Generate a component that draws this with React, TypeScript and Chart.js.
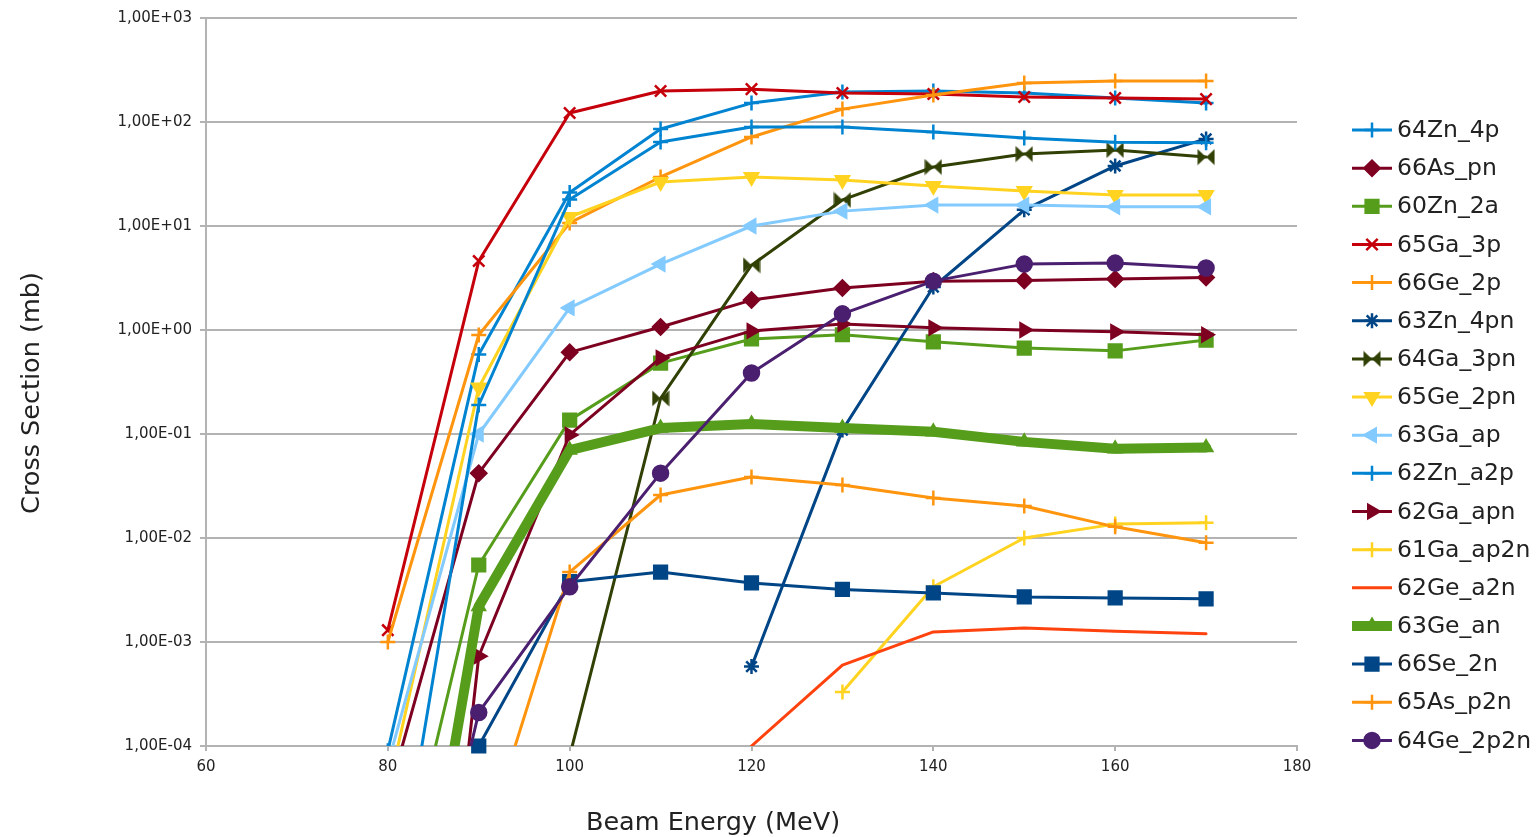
import React, { useEffect, useRef } from 'react';
import { Chart, registerables } from 'chart.js';
import { drawPoint } from 'chart.js/helpers';

Chart.register(...registerables);

// ---------- data ----------
const energies = [80, 90, 100, 110, 120, 130, 140, 150, 160, 170];

const seriesNames = [
  '64Zn_4p', '66As_pn', '60Zn_2a', '65Ga_3p', '66Ge_2p', '63Zn_4pn', '64Ga_3pn', '65Ge_2pn',
  '63Ga_ap', '62Zn_a2p', '62Ga_apn', '61Ga_ap2n', '62Ge_a2n', '63Ge_an', '66Se_2n', '65As_p2n', '64Ge_2p2n',
];

const zn64_4p = [9e-5, 0.58, 21, 85.7, 152, 194, 199, 190, 170, 152];
const as66_pn = [3.2e-5, 0.042, 0.61, 1.07, 1.94, 2.54, 2.95, 3.0, 3.1, 3.2];
const zn60_2a = [1.2e-6, 5.5e-3, 0.136, 0.48, 0.82, 0.9, 0.77, 0.67, 0.63, 0.8];
const ga65_3p = [1.3e-3, 4.6, 122, 199, 207, 190, 186, 174, 170, 166];
const ge66_2p = [1.0e-3, 0.895, 10.7, 29.6, 71.8, 133, 182, 237, 248, 248];
const zn63_4pn = [null, null, null, null, 5.8e-4, 0.109, 2.59, 14.3, 37.8, 68.8];
const ga64_3pn = [null, null, 8e-5, 0.22, 4.2, 17.8, 36.9, 49.2, 53.8, 46];
const ge65_2pn = [3.7e-5, 0.28, 12.2, 26.5, 29.6, 27.7, 24.3, 21.7, 19.9, 19.9];
const ga63_ap = [6.7e-5, 0.1, 1.63, 4.3, 10.0, 13.9, 15.9, 15.9, 15.3, 15.3];
const zn62_a2p = [1.1e-6, 0.19, 18, 64.3, 89.6, 89.6, 80, 70, 64, 63];
const ga62_apn = [1e-11, 7.3e-4, 0.098, 0.54, 0.98, 1.14, 1.05, 1.0, 0.96, 0.9];
const ga61_ap2n = [null, null, null, null, null, 3.3e-4, 3.4e-3, 0.01, 0.0136, 0.014];
const ge62_a2n = [null, null, null, null, 1e-4, 6e-4, 1.25e-3, 1.36e-3, 1.27e-3, 1.2e-3];
const ge63_an = [2e-8, 2.2e-3, 0.07, 0.114, 0.125, 0.114, 0.105, 0.084, 0.072, 0.074];
const se66_2n = [null, 1e-4, 3.8e-3, 4.7e-3, 3.7e-3, 3.2e-3, 2.96e-3, 2.71e-3, 2.65e-3, 2.6e-3];
const as65_p2n = [null, 7.7e-6, 4.7e-3, 0.0259, 0.0386, 0.0324, 0.0243, 0.0203, 0.0128, 0.009];
const ge64_2p2n = [4e-8, 2.1e-4, 3.4e-3, 0.042, 0.386, 1.43, 2.95, 4.3, 4.4, 3.95];

const seriesValues = [
  zn64_4p, as66_pn, zn60_2a, ga65_3p, ge66_2p, zn63_4pn, ga64_3pn, ge65_2pn,
  ga63_ap, zn62_a2p, ga62_apn, ga61_ap2n, ge62_a2n, ge63_an, se66_2n, as65_p2n, ge64_2p2n,
];

const yTickValues = [1e-4, 1e-3, 1e-2, 1e-1, 1, 10, 100, 1000];
const yTickLabels = ['1,00E-04', '1,00E-03', '1,00E-02', '1,00E-01', '1,00E+00', '1,00E+01', '1,00E+02', '1,00E+03'];

const xTitle = 'Beam Energy (MeV)';
const yTitle = 'Cross Section (mb)';

// ---------- styles ----------
type St = { color: string; style: string; rot: number; radius: number; width: number; clipBottom?: boolean };
const seriesStyles: St[] = [
  { color: '#0084d1', style: 'cross', rot: 0, radius: 7.5, width: 3 },
  { color: '#7e0021', style: 'rectRot', rot: 0, radius: 7.5, width: 3 },
  { color: '#579d1c', style: 'rect', rot: 0, radius: 9, width: 3 },
  { color: '#c5000b', style: 'crossRot', rot: 0, radius: 8, width: 3 },
  { color: '#ff950e', style: 'cross', rot: 0, radius: 7.5, width: 3 },
  { color: '#004586', style: 'star', rot: 0, radius: 7.5, width: 3 },
  { color: '#314004', style: 'bowtie', rot: 0, radius: 8, width: 3 },
  { color: '#ffd320', style: 'triangle', rot: 180, radius: 7.5, width: 3 },
  { color: '#83caff', style: 'triangle', rot: 270, radius: 7.5, width: 3 },
  { color: '#0084d1', style: 'cross', rot: 0, radius: 7.5, width: 3 },
  { color: '#7e0021', style: 'triangle', rot: 90, radius: 7.5, width: 3 },
  { color: '#ffd320', style: 'cross', rot: 0, radius: 7.5, width: 3 },
  { color: '#ff420e', style: 'none', rot: 0, radius: 0, width: 3 },
  { color: '#579d1c', style: 'triangle', rot: 0, radius: 7, width: 10 },
  { color: '#004586', style: 'rect', rot: 0, radius: 9, width: 3, clipBottom: true },
  { color: '#ff950e', style: 'cross', rot: 0, radius: 7.5, width: 3 },
  { color: '#4b1f6f', style: 'circle', rot: 0, radius: 7.5, width: 3 },
];

const FONT = '"DejaVu Sans", "Liberation Sans", sans-serif';

function makeBowtie(color: string) {
  const c = document.createElement('canvas');
  c.width = 18;
  c.height = 17;
  const ctx = c.getContext('2d')!;
  ctx.fillStyle = color;
  ctx.beginPath();
  ctx.moveTo(0.5, 0.5); ctx.lineTo(9, 8.5); ctx.lineTo(0.5, 16.5); ctx.closePath();
  ctx.moveTo(17.5, 0.5); ctx.lineTo(9, 8.5); ctx.lineTo(17.5, 16.5); ctx.closePath();
  ctx.fill();
  return c;
}

const LEGEND_TOP = 130;
const LEGEND_STEP = 38.15;

const decorPlugin = {
  id: 'decor',
  afterDraw(chart: any) {
    const ctx = chart.ctx as CanvasRenderingContext2D;
    ctx.save();
    ctx.fillStyle = '#222';
    ctx.font = `25.5px ${FONT}`;
    ctx.textAlign = 'center';
    ctx.textBaseline = 'alphabetic';
    ctx.fillText(xTitle, 713, 830);
    ctx.save();
    ctx.translate(39, 393);
    ctx.rotate(-Math.PI / 2);
    ctx.fillText(yTitle, 0, 0);
    ctx.restore();

    // legend
    chart.data.datasets.forEach((ds: any, i: number) => {
      const y = LEGEND_TOP + i * LEGEND_STEP;
      ctx.save();
      ctx.strokeStyle = ds.borderColor;
      ctx.lineWidth = ds.borderWidth;
      ctx.lineCap = 'butt';
      ctx.beginPath();
      ctx.moveTo(1352, y);
      ctx.lineTo(1392, y);
      ctx.stroke();
      if (ds.pointRadius > 0) {
        ctx.fillStyle = ds.pointBackgroundColor;
        ctx.strokeStyle = ds.pointBorderColor;
        ctx.lineWidth = ds.pointBorderWidth;
        drawPoint(ctx, {
          pointStyle: ds.pointStyle,
          rotation: ds.pointRotation,
          radius: ds.pointRadius,
          borderWidth: ds.pointBorderWidth,
        } as any, 1372, y);
      }
      ctx.restore();
      ctx.fillStyle = '#222';
      ctx.font = `23.5px ${FONT}`;
      ctx.textAlign = 'left';
      ctx.textBaseline = 'middle';
      ctx.fillText(ds.label, 1397, y + 1);
    });
    ctx.restore();
  },
};

export default function App() {
  const ref = useRef<HTMLCanvasElement>(null);

  useEffect(() => {
    if (!ref.current) return;
    const bowtie = makeBowtie('#314004');
    const datasets = seriesNames.map((name, i) => {
      const st = seriesStyles[i];
      const vals = seriesValues[i];
      const ds: any = {
        label: name,
        data: energies.map((x, j) => ({ x, y: vals[j] })),
        borderColor: st.color,
        backgroundColor: st.color,
        borderWidth: st.width,
        borderJoinStyle: 'round',
        borderCapStyle: 'round',
        pointStyle: st.style === 'bowtie' ? bowtie : st.style === 'none' ? false : st.style,
        pointRotation: st.rot,
        pointRadius: st.radius,
        pointBorderWidth: 2.5,
        pointBackgroundColor: st.color,
        pointBorderColor: st.color,
        tension: 0,
        spanGaps: false,
        order: -i,
      };
      if (st.clipBottom) ds.clip = { left: 0, top: 0, right: 0, bottom: 9 };
      return ds;
    });

    const chart = new Chart(ref.current, {
      type: 'line',
      data: { datasets },
      options: {
        responsive: false,
        animation: false,
        events: [],
        layout: { padding: { left: 0, top: 18, right: 243, bottom: 0 } },
        plugins: {
          legend: { display: false },
          tooltip: { enabled: false },
        },
        scales: {
          x: {
            type: 'linear',
            min: 60,
            max: 180,
            ticks: { stepSize: 20, font: { family: FONT, size: 15 }, color: '#222', padding: 7 },
            grid: { drawOnChartArea: false, drawTicks: true, tickLength: 5, color: '#b3b3b3', lineWidth: 2 },
            border: { color: '#b3b3b3', width: 2 },
            afterFit: (s: any) => { s.height = 91; },
          },
          y: {
            type: 'logarithmic',
            min: 1e-4,
            max: 1e3,
            afterBuildTicks: (s: any) => { s.ticks = yTickValues.map((v) => ({ value: v })); },
            ticks: {
              font: { family: FONT, size: 15 },
              color: '#222',
              padding: 8,
              autoSkip: false,
              callback: (v: any) => {
                const idx = yTickValues.findIndex((t) => Math.abs(Math.log10(t) - Math.log10(Number(v))) < 1e-6);
                return idx >= 0 ? yTickLabels[idx] : '';
              },
            },
            grid: { color: '#b3b3b3', lineWidth: 2, tickLength: 6 },
            border: { color: '#b3b3b3', width: 2 },
            afterFit: (s: any) => { s.width = 206; },
          },
        },
      } as any,
      plugins: [decorPlugin],
    });
    return () => chart.destroy();
  }, []);

  return (
    <div style={{ position: 'absolute', left: 0, top: 0, width: 1540, height: 837, background: '#fff' }}>
      <canvas ref={ref} width={1540} height={837} style={{ display: 'block', width: 1540, height: 837 }} />
    </div>
  );
}
